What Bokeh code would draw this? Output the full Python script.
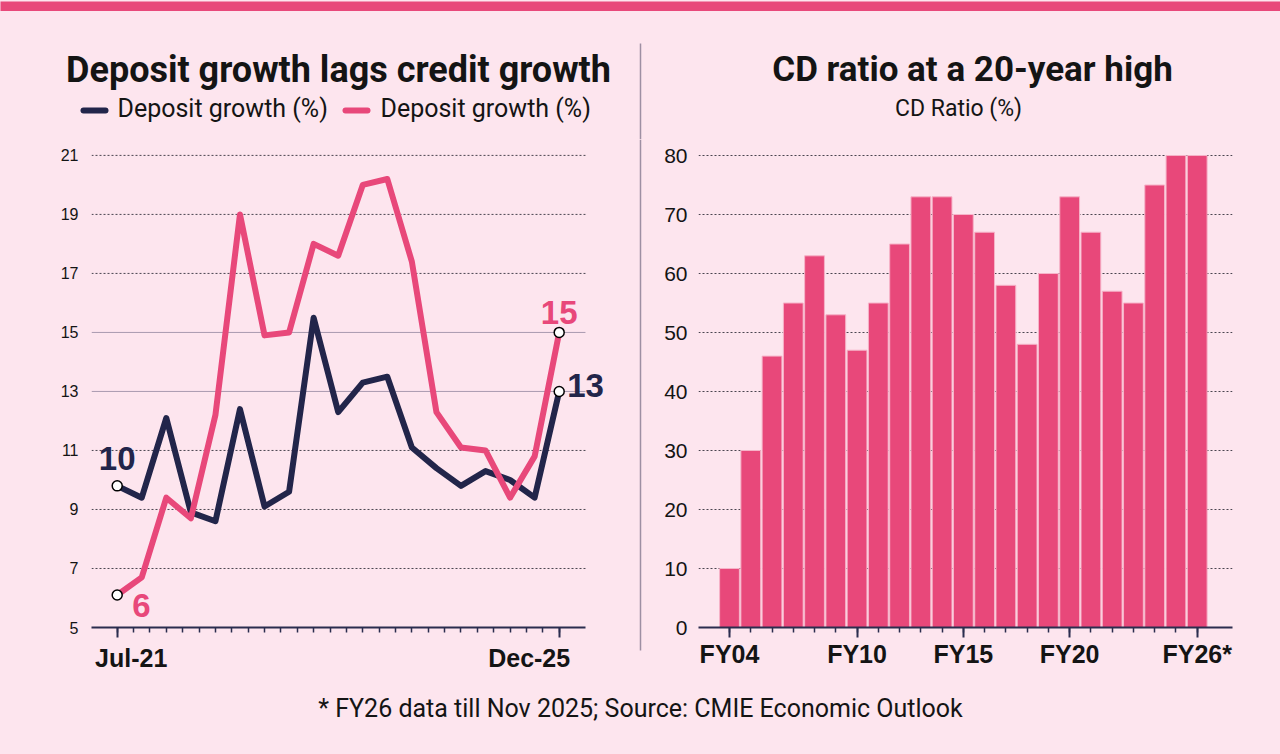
from bokeh.plotting import figure
from bokeh.models import (BooleanFilter, CDSView, ColumnDataSource,
                          CustomLabelingPolicy, FixedTicker, Label, LinearAxis)
from bokeh.layouts import column, row
from bokeh.embed import file_html
from bokeh.resources import INLINE
from bokeh.core.properties import value

# ---------------------------------------------------------------- data
# Growth series sampled every three months, x = months since Jul-21
months = [0, 3, 6, 9, 12, 15, 18, 21, 24, 27, 30, 33, 36, 39, 42, 45, 48, 51, 54]
deposit_growth = [9.8, 9.4, 12.1, 8.9, 8.6, 12.4, 9.1, 9.6, 15.5, 12.3,
                  13.3, 13.5, 11.1, 10.4, 9.8, 10.3, 10.0, 9.4, 13.0]
credit_growth = [6.1, 6.7, 9.4, 8.7, 12.2, 19.0, 14.9, 15.0, 18.0, 17.6,
                 20.0, 20.2, 17.4, 12.3, 11.1, 11.0, 9.4, 10.8, 15.0]
legend_labels = ["Deposit growth (%)", "Deposit growth (%)"]
growth_ticks = [5, 7, 9, 11, 13, 15, 17, 19, 21]
growth_solid_grid = [13, 15]
month_ticks = list(range(0, 55, 2))
month_labels = {0: "Jul-21", 54: "Dec-25"}

# Credit-deposit ratio by fiscal year
fiscal_years = ["FY04", "FY05", "FY06", "FY07", "FY08", "FY09", "FY10", "FY11",
                "FY12", "FY13", "FY14", "FY15", "FY16", "FY17", "FY18", "FY19",
                "FY20", "FY21", "FY22", "FY23", "FY24", "FY25", "FY26*"]
cd_ratio = [10, 30, 46, 55, 63, 53, 47, 55, 65, 73, 73, 70, 67, 58, 48, 60,
            73, 67, 57, 55, 75, 80, 80]
cd_ticks = [0, 10, 20, 30, 40, 50, 60, 70, 80]
cd_labelled = ["FY04", "FY10", "FY15", "FY20", "FY26*"]

left_title = "Deposit growth lags credit growth"
right_title = "CD ratio at a 20-year high"
right_subtitle = "CD Ratio (%)"
footnote = "* FY26 data till Nov 2025; Source: CMIE Economic Outlook"

# ---------------------------------------------------------------- style
BG = "#FDE5EE"
PINK = "#E8487A"
NAVY = "#22254A"
INK = "#141414"
AXIS = "#2B2D4E"
GRID = "#4A4550"
RULE = "#9E8FA3"
HEAD = "Roboto"
SANS = "Liberation Sans"

# horizontal scale of the line chart: pixels per month
PX_PER_MONTH = 8.185


def base_figure(**kw):
    # transparent border so the page colour shows through evenly
    return figure(output_backend="svg", toolbar_location=None,
                  background_fill_color=BG, border_fill_color=None,
                  outline_line_color=None, **kw)


def blank_figure(**kw):
    # full-canvas frame that is not aligned with neighbouring plots
    p = base_figure(min_border=0, x_axis_location=None, y_axis_location=None,
                    frame_align=False, **kw)
    p.grid.visible = False
    return p


def style_axes(p, ylabel_size, ylabel_standoff):
    p.yaxis.axis_line_color = None
    p.yaxis.major_tick_line_color = None
    p.yaxis.minor_tick_line_color = None
    p.yaxis.major_label_text_font = SANS
    p.yaxis.major_label_text_font_size = ylabel_size
    p.yaxis.major_label_text_color = INK
    p.yaxis.major_label_standoff = ylabel_standoff
    ax = p.xaxis[0]
    ax.axis_line_color = AXIS
    ax.axis_line_width = 2
    ax.major_tick_line_color = AXIS
    ax.major_tick_line_width = 2
    ax.minor_tick_line_color = AXIS
    ax.minor_tick_line_width = 1.5
    ax.major_tick_in = 0
    ax.major_tick_out = 10
    ax.minor_tick_in = 0
    ax.minor_tick_out = 5
    ax.major_label_text_font = SANS
    ax.major_label_text_font_style = "bold"
    ax.major_label_text_font_size = "25px"
    ax.major_label_text_color = INK
    ax.major_label_standoff = 2
    p.xgrid.visible = False


# ---------------------------------------------------------------- header
header = blank_figure(width=1280, height=128, x_range=(0, 1280), y_range=(0, 128))


def head_text(x, y, text, size, color=INK, bold=False, align="center"):
    header.text(x=[x], y=[y], text=[text], text_align=align,
                text_baseline="middle", text_font=value(HEAD),
                text_font_style="bold" if bold else "normal",
                text_font_size=size, text_color=color)


head_text(338, 70, left_title, "36px", bold=True)
head_text(972, 70, right_title, "35px", bold=True)
head_text(958, 31, right_subtitle, "23px")
# legend keys for the two lines
for (x0, x1, tx), color, label in zip([(83, 105, 117), (345, 367, 380)],
                                      [NAVY, PINK], legend_labels):
    header.segment(x0=[x0], y0=[29], x1=[x1], y1=[29], line_color=color,
                   line_width=6, line_cap="round")
    head_text(tx, 31, label, "25px", align="left")
header.segment(x0=[640], y0=[0], x1=[640], y1=[96], line_color=RULE, line_width=1.5)

# ---------------------------------------------------------------- left: growth lines
X0, X1 = -3.14, 57.21          # extent of the plotting area in months
left = base_figure(width=636, height=552,
                   x_range=(X0, X0 + 519 / PX_PER_MONTH), y_range=(5, 21.2),
                   min_border_left=91, min_border_right=26,
                   min_border_top=10, min_border_bottom=64)
left.ygrid.visible = False
style_axes(left, "16px", 7)
left.yaxis.ticker = FixedTicker(ticks=growth_ticks)
tick_axis = left.xaxis[0]
tick_axis.bounds = (X0, X1)
tick_axis.ticker = FixedTicker(ticks=list(month_labels), minor_ticks=month_ticks)
tick_axis.major_label_text_font_size = "0px"
tick_axis.major_label_standoff = 0
# this axis only draws the tick marks; the names come from the axis below it
tick_axis.major_label_policy = CustomLabelingPolicy(code="""
    for (const i of Array.from(indices)) indices.unset(i)
    return indices
""")

# period names sit slightly inside the first and last ticks
label_shift = {0: 14 / PX_PER_MONTH, 54: -30 / PX_PER_MONTH}
label_pos = {m + label_shift[m]: t for m, t in month_labels.items()}
name_axis = LinearAxis(ticker=FixedTicker(ticks=list(label_pos)),
                       major_label_overrides=label_pos,
                       axis_line_color=None, major_tick_line_color=None,
                       minor_tick_line_color=None, major_label_standoff=0,
                       major_label_text_font=SANS, major_label_text_font_style="bold",
                       major_label_text_font_size="25px", major_label_text_color=INK)
left.add_layout(name_axis, "below")

grid_rows = [t for t in growth_ticks if t != 5]
grid_src = ColumnDataSource(dict(
    x0=[X0] * len(grid_rows), x1=[X1] * len(grid_rows), y=grid_rows,
    color=["#A99AB0" if t in growth_solid_grid else GRID for t in grid_rows]))
dotted = [t not in growth_solid_grid for t in grid_rows]
left.segment(x0="x0", y0="y", x1="x1", y1="y", source=grid_src,
             view=CDSView(filter=BooleanFilter(dotted)),
             line_color="color", line_width=1, line_dash="2 2")
left.segment(x0="x0", y0="y", x1="x1", y1="y", source=grid_src,
             view=CDSView(filter=BooleanFilter([not d for d in dotted])),
             line_color="color", line_width=1)

src = ColumnDataSource(dict(m=months, dep=deposit_growth, cred=credit_growth))
left.line("m", "dep", source=src, line_color=NAVY, line_width=6, line_join="round")
left.line("m", "cred", source=src, line_color=PINK, line_width=6, line_join="round")

ends = ColumnDataSource(dict(
    x=[months[0], months[-1], months[0], months[-1]],
    y=[deposit_growth[0], deposit_growth[-1], credit_growth[0], credit_growth[-1]]))
left.scatter("x", "y", source=ends, size=10, fill_color="white",
             line_color="black", line_width=1.5)

num_style = dict(text_font=SANS, text_font_style="bold", text_font_size="33px",
                 text_baseline="middle")
left.add_layout(Label(x=months[0], y=deposit_growth[0],
                      text=f"{deposit_growth[0]:.0f}", text_align="center",
                      y_offset=27, text_color=NAVY, **num_style))
left.add_layout(Label(x=months[0], y=credit_growth[0],
                      text=f"{credit_growth[0]:.0f}", text_align="left",
                      x_offset=15, y_offset=-10, text_color=PINK, **num_style))
left.add_layout(Label(x=months[-1], y=credit_growth[-1],
                      text=f"{credit_growth[-1]:.0f}", text_align="center",
                      y_offset=20, text_color=PINK, **num_style))
left.add_layout(Label(x=months[-1], y=deposit_growth[-1],
                      text=f"{deposit_growth[-1]:.0f}", text_align="left",
                      x_offset=8, y_offset=6, text_color=NAVY, **num_style))

# ---------------------------------------------------------------- divider
divider = blank_figure(width=8, height=552, x_range=(0, 8), y_range=(0, 552))
divider.background_fill_color = None
divider.segment(x0=[4], y0=[41], x1=[4], y1=[552], line_color=RULE, line_width=1.5)

# ---------------------------------------------------------------- right: CD ratio bars
right = base_figure(width=636, height=552,
                    x_range=(-1.458, 23.66), y_range=(0, 81.02),
                    min_border_left=54, min_border_right=48,
                    min_border_top=10, min_border_bottom=64)
style_axes(right, "21px", 5)
right.yaxis.ticker = FixedTicker(ticks=cd_ticks)
fy_idx = list(range(len(fiscal_years)))
major_idx = [fiscal_years.index(l) for l in cd_labelled]
right.xaxis.ticker = FixedTicker(ticks=major_idx, minor_ticks=fy_idx)
right.xaxis.major_label_overrides = {i: fiscal_years[i] for i in major_idx}
right.ygrid.ticker = FixedTicker(ticks=cd_ticks[1:])
right.ygrid.grid_line_color = GRID
right.ygrid.grid_line_dash = "2 2"
right.ygrid.grid_line_width = 1

bars = ColumnDataSource(dict(x=fy_idx, top=cd_ratio, fy=fiscal_years))
right.vbar(x="x", top="top", source=bars, width=0.93, bottom=0,
           fill_color=PINK, line_color="#F6B3C8", line_width=1)

# ---------------------------------------------------------------- band and footer
band = figure(width=1280, height=11, output_backend="svg", toolbar_location=None,
              background_fill_color=PINK, border_fill_color=None,
              outline_line_color=None, min_border=0, frame_align=False,
              x_axis_location=None, y_axis_location=None)
band.grid.visible = False

footer = blank_figure(width=1280, height=63, x_range=(0, 1280), y_range=(0, 63))
footer.text(x=[640], y=[46], text=[footnote], text_align="center",
            text_baseline="middle", text_font=value(HEAD),
            text_font_size="25px", text_color=INK)

layout = column(band, header, row(left, divider, right), footer)

html = file_html(layout, INLINE)
page_css = f"<style>html, body {{ margin: 0; padding: 0; background: {BG}; }}</style>"
html = html.replace("</head>", page_css + "\n</head>", 1)
with open("out.html", "w") as f:
    f.write(html)
